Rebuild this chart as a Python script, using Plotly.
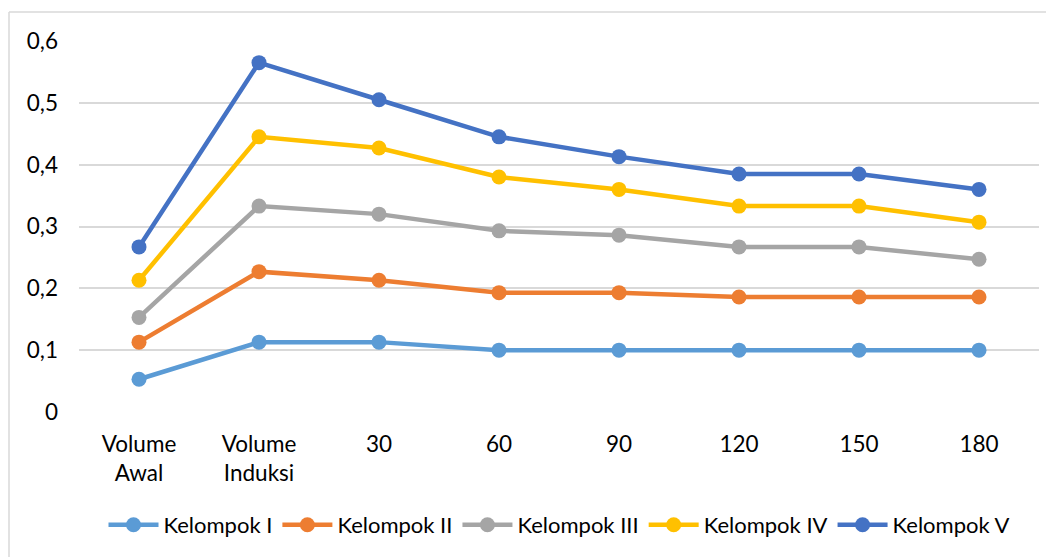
import plotly.graph_objects as go

categories = ["Volume<br>Awal", "Volume<br>Induksi", "30", "60", "90", "120", "150", "180"]
kelompok_1 = [0.053, 0.113, 0.113, 0.100, 0.100, 0.100, 0.100, 0.100]
kelompok_2 = [0.113, 0.227, 0.213, 0.193, 0.193, 0.186, 0.186, 0.186]
kelompok_3 = [0.153, 0.333, 0.320, 0.293, 0.286, 0.267, 0.267, 0.247]
kelompok_4 = [0.213, 0.445, 0.427, 0.380, 0.360, 0.333, 0.333, 0.307]
kelompok_5 = [0.267, 0.565, 0.505, 0.445, 0.413, 0.385, 0.385, 0.360]
series_names = ["Kelompok I", "Kelompok II", "Kelompok III", "Kelompok IV", "Kelompok V"]
series_values = [kelompok_1, kelompok_2, kelompok_3, kelompok_4, kelompok_5]
colors = ["#5b9bd5", "#ed7d31", "#a5a5a5", "#ffc000", "#4472c4"]
y_ticks = [0, 0.1, 0.2, 0.3, 0.4, 0.5, 0.6]
y_tick_labels = ["0", "0,1", "0,2", "0,3", "0,4", "0,5", "0,6"]

fig = go.Figure()
for name, vals, col in zip(series_names, series_values, colors):
    fig.add_trace(go.Scatter(
        x=categories, y=vals, name=name, mode="lines+markers",
        line=dict(color=col, width=4.5),
        marker=dict(color=col, size=15),
    ))

off = 8  # page body margin
W, H = 1054 - off, 557 - off
l, t = 79 - off, 41 - off
pw, ph = 960, 371
r, b = W - l - pw, H - t - ph

bx = (9 - off - l) / pw
by = 1 + (t - (12 - off)) / ph

fig.update_layout(
    width=W, height=H,
    margin=dict(l=l, r=r, t=t, b=b, autoexpand=False),
    paper_bgcolor="white", plot_bgcolor="white",
    font=dict(family="Lato, Open Sans, sans-serif", size=22, color="#000000"),
    showlegend=True,
    legend=dict(orientation="h", x=0.5, xanchor="center", y=(ph - (525 - 41)) / ph,
                yanchor="middle", font=dict(size=22), tracegroupgap=0, itemwidth=50),
    xaxis=dict(type="category", showgrid=False, showline=False, zeroline=False,
               ticks="", tickfont=dict(size=22.5), range=[-0.5, 7.5],
               ticklabelstandoff=16),
    yaxis=dict(range=[0, 0.6], tickvals=y_ticks, ticktext=y_tick_labels,
               showgrid=True, gridcolor="#d9d9d9", gridwidth=1.5,
               zeroline=False, showline=False, ticks="",
               tickfont=dict(size=22.5), ticklabelstandoff=20),
    shapes=[
        dict(type="line", xref="paper", yref="paper",
             x0=bx, x1=1.03, y0=by, y1=by,
             line=dict(color="#d9d9d9", width=1.5)),
        dict(type="line", xref="paper", yref="paper",
             x0=bx, x1=bx, y0=by, y1=-0.45,
             line=dict(color="#d9d9d9", width=1.5)),
    ],
)
fig.write_html("out.html")
